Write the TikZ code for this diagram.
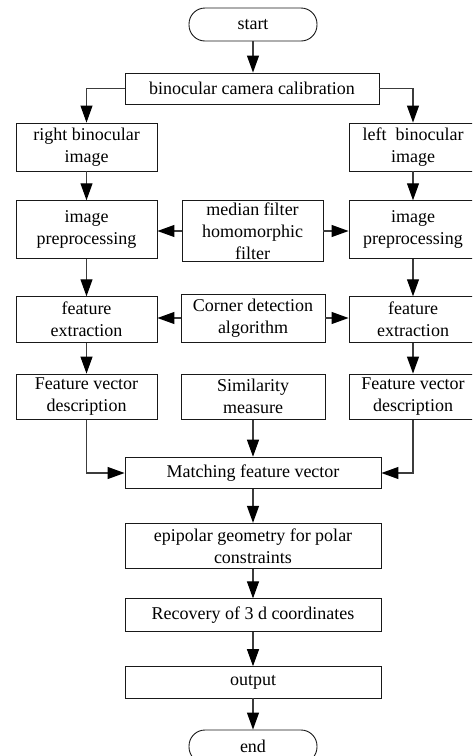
\documentclass[tikz,border=0pt]{standalone}
\usepackage{fontspec}
\setmainfont{Liberation Serif}
\usetikzlibrary{arrows.meta}
\definecolor{lc}{RGB}{60,60,60}
\begin{document}
\begin{tikzpicture}[x=1pt,y=-1pt,
  box/.style={draw=black!90, line width=0.9pt, align=center,
    font=\fontsize{18}{22}\selectfont, inner sep=0pt},
  term/.style={box, rounded corners=16pt, minimum width=128pt, minimum height=33pt},
  arr/.style={draw=lc, line width=1.1pt,
    -{Triangle[length=17pt,width=12pt,color=black]}}]
\clip (0,0) rectangle (472,756);
\useasboundingbox (0,0) rectangle (472,756);

\node[term] (start) at (253,24.5) {start};
\node[box, minimum width=254pt, minimum height=31pt] (calib) at (252,88.5) {binocular camera calibration};

\node[box, minimum width=141pt, minimum height=48pt] (rbi) at (86.5,147) {right binocular\\image};
\node[box, minimum width=128pt, minimum height=48pt] (lbi) at (413,147) {left~ binocular\\image};

\node[box, minimum width=141pt, minimum height=58pt] (ipl) at (86.5,229.7) {image\\preprocessing};
\node[box, minimum width=141pt, minimum height=61pt] (median) at (252.5,231) {median filter\\homomorphic\\filter};
\node[box, minimum width=128pt, minimum height=58pt] (ipr) at (413,229.7) {image\\preprocessing};

\node[box, minimum width=141pt, minimum height=45.6pt] (fel) at (86.5,319.5) {feature\\extraction};
\node[box, minimum width=144pt, minimum height=48pt] (corner) at (253,318) {Corner detection\\algorithm};
\node[box, minimum width=128pt, minimum height=45.6pt] (fer) at (413,319.5) {feature\\extraction};

\node[box, minimum width=141pt, minimum height=45.3pt] (fvdl) at (86.5,396.7) {Feature vector\\description};
\node[box, minimum width=144pt, minimum height=45.3pt] (sim) at (253,396.7) {Similarity\\measure};
\node[box, minimum width=128pt, minimum height=45.3pt] (fvdr) at (413,396.7) {Feature vector\\description};

\node[box, minimum width=256pt, minimum height=31.7pt] (match) at (253,473) {Matching feature vector};
\node[box, minimum width=256pt, minimum height=45.4pt] (epi) at (253,546) {epipolar geometry for polar\\constraints};
\node[box, minimum width=256pt, minimum height=32.3pt] (rec) at (253,615) {Recovery of 3 d coordinates};
\node[box, minimum width=256pt, minimum height=31.3pt] (out) at (253,682.3) {output};
\node[term] (end) at (253,746.5) {end};

\draw[arr] (start.south) -- (start.south |- calib.north);
\draw[arr] (calib.west) -| (rbi.north);
\draw[arr] (calib.east) -| (lbi.north);

\draw[arr] (rbi) -- (ipl);
\draw[arr] (ipl) -- (fel);
\draw[arr] (fel) -- (fvdl);
\draw[arr] (lbi) -- (ipr);
\draw[arr] (ipr) -- (fer);
\draw[arr] (fer) -- (fvdr);

\draw[arr] (median.west) -- (median.west -| ipl.east);
\draw[arr] (median.east) -- (median.east -| ipr.west);
\draw[arr] (corner.west) -- (corner.west -| fel.east);
\draw[arr] (corner.east) -- (corner.east -| fer.west);

\draw[arr] (fvdl.south) |- (match.west);
\draw[arr] (sim.south) -- (sim.south |- match.north);
\draw[arr] (fvdr.south) |- (match.east);

\draw[arr] (match) -- (epi);
\draw[arr] (epi) -- (rec);
\draw[arr] (rec) -- (out);
\draw[arr] (out) -- (end);
\end{tikzpicture}
\end{document}
